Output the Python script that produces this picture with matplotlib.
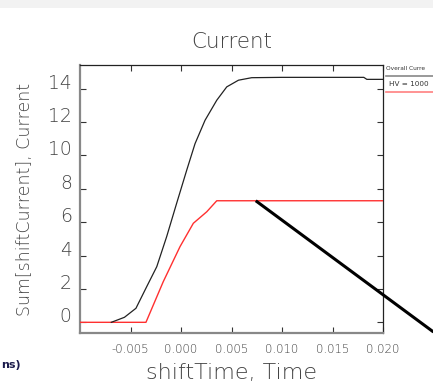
import matplotlib
matplotlib.use("Agg")
import matplotlib.pyplot as plt
from matplotlib.lines import Line2D
from matplotlib.patches import Rectangle
from matplotlib import font_manager as fm

# ---- data ----
black_t = [-0.0069, -0.0056, -0.00446, -0.0034, -0.0024, -0.00142, -0.00043, 0.00057,
           0.00139, 0.00238, 0.00354, 0.00453, 0.00569, 0.0070, 0.0100, 0.0181, 0.0184, 0.0200]
black_v = [0.0, 0.3, 0.84, 2.13, 3.33, 5.13, 7.13, 9.12,
           10.7, 12.1, 13.3, 14.1, 14.5, 14.65, 14.67, 14.67, 14.55, 14.55]
red_t = [-0.0100, -0.00347, -0.00176, -0.0001, 0.00122, 0.00255, 0.00354, 0.0200]
red_v = [0.0, 0.0, 2.43, 4.53, 5.93, 6.62, 7.28, 7.28]
arrow_t = [0.0074, 0.0250]
arrow_v = [7.28, -0.58]
xticks = [-0.005, 0.000, 0.005, 0.010, 0.015, 0.020]
xticklabels = ["-0.005", "0.000", "0.005", "0.010", "0.015", "0.020"]
yticks = [0, 2, 4, 6, 8, 10, 12, 14]
legend_labels = ["Overall Curre", "HV = 1000"]


def _w(f):
    w = f.weight
    if isinstance(w, str):
        return {"ultralight": 200, "extra light": 200, "light": 300, "normal": 400,
                "regular": 400, "book": 400}.get(w.lower(), 400)
    return w


has_dv_light = any(f.name == "DejaVu Sans" and _w(f) < 400 for f in fm.fontManager.ttflist)
if has_dv_light:
    FONT = ["DejaVu Sans"]
    K = 1.0
else:
    FONT = ["Roboto", "DejaVu Sans"]
    K = 1.2
TXT = "#444444"

fig = plt.figure(figsize=(4.33, 3.89), dpi=100)
fig.patches.append(Rectangle((0, 1 - 8 / 389), 1, 8 / 389, transform=fig.transFigure,
                             facecolor="#f2f2f2", edgecolor="none", zorder=0))

ax = fig.add_axes([80 / 433, 1 - 333 / 389, 303 / 433, 268 / 389])
ax.plot(red_t, red_v, color="#ff3030", lw=1.0, zorder=3)
ax.plot(black_t, black_v, color="#222222", lw=0.9, zorder=4)
ax.plot(arrow_t, arrow_v, color="black", lw=2.2, clip_on=False, zorder=5, solid_capstyle="butt")

ax.set_xlim(-0.010, 0.020)
ax.set_ylim(-0.64, 15.41)
ax.set_xticks(xticks)
ax.set_xticklabels(xticklabels, fontsize=8.5 * K, family=FONT, fontweight="light", color=TXT)
ax.set_yticks(yticks)
ax.set_yticklabels([str(v) for v in yticks], fontsize=13.5, family=FONT, fontweight="light",
                   color=TXT, va="baseline")
ax.tick_params(direction="in", length=4, width=0.8, top=True, right=True, color="#333333")
ax.tick_params(axis="x", pad=7)
ax.tick_params(axis="y", pad=6)
for s in ["left", "bottom"]:
    ax.spines[s].set_color("#888888")
    ax.spines[s].set_linewidth(1.6)
for s in ["top", "right"]:
    ax.spines[s].set_color("#222222")
    ax.spines[s].set_linewidth(0.9)

ax.set_title("Current", fontsize=15.5 * K, family=FONT, fontweight="light", color=TXT, pad=12)
ax.set_xlabel("shiftTime, Time", fontsize=16 * K, family=FONT, fontweight="light", color=TXT,
              labelpad=6)
ax.set_ylabel("Sum[shiftCurrent], Current", fontsize=12.5 * K, family=FONT, fontweight="light",
              color=TXT, labelpad=10)

# legend at the right edge
fig.text(386 / 433, 1 - 68 / 389, legend_labels[0], fontsize=4.2, family=FONT, color="#333333",
         va="center", ha="left")
fig.lines.append(Line2D([386 / 433, 1.0], [1 - 75.5 / 389] * 2, transform=fig.transFigure,
                        color="#888888", lw=1.2))
fig.text(389 / 433, 1 - 83.5 / 389, legend_labels[1], fontsize=5.2, family=FONT, color="#333333",
         va="center", ha="left")
fig.lines.append(Line2D([386 / 433, 1.0], [1 - 91.5 / 389] * 2, transform=fig.transFigure,
                        color="#ff8080", lw=1.2))

# text at the lower left
fig.text(1 / 433, 1 - 365 / 389, "ns)", fontsize=8, fontweight="bold", color="#1c1c4c",
         va="center", ha="left")

fig.savefig("out.png", dpi=100)
